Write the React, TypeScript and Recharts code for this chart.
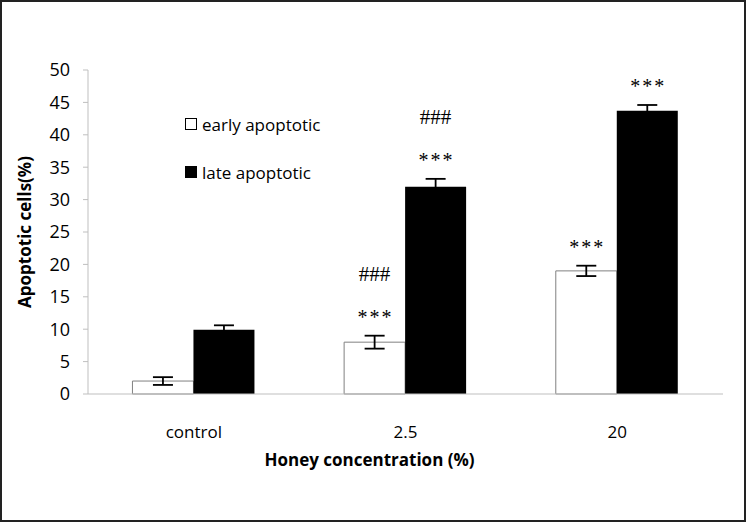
import React from 'react';
import { BarChart, Bar, XAxis, YAxis, ErrorBar, LabelList, Legend, Label } from 'recharts';

const categories = ['control', '2.5', '20'];
const earlyValues = [2, 8, 19];
const earlyErrors = [0.6, 1.0, 0.8];
const lateValues = [9.9, 32, 43.7];
const lateErrors = [0.7, 1.2, 0.9];
const earlyStars = ['', '***', '***'];
const earlyHashes = ['', '###', ''];
const lateStars = ['', '***', '***'];
const lateHashes = ['', '###', ''];
const yTicks = [0, 5, 10, 15, 20, 25, 30, 35, 40, 45, 50];
const seriesNames = ['early apoptotic', 'late apoptotic'];

const data = categories.map((name, i) => ({
  name,
  early: earlyValues[i],
  earlyErr: earlyErrors[i],
  late: lateValues[i],
  lateErr: lateErrors[i],
}));

const FONT = '"Open Sans", sans-serif';
const MARK_FONT = '"Liberation Serif", serif';

// stars/hashes drawn above the error bar top of each bar
const makeMarks = (values: number[], errors: number[], stars: string[], hashes: string[]) =>
  (props: any) => {
    const { x, y, width, height, index } = props;
    if (!stars[index] && !hashes[index]) return null;
    const perUnit = height / values[index];
    const errTop = y - errors[index] * perUnit;
    const starMid = errTop - 22;
    const cx = x + width / 2;
    return (
      <g>
        {stars[index] && (
          <text
            x={cx + 1}
            y={starMid + 10}
            textAnchor="middle"
            fontFamily={MARK_FONT}
            fontSize={20}
            letterSpacing={2}
            fill="#000"
          >
            {stars[index]}
          </text>
        )}
        {hashes[index] && (
          <text x={cx} y={starMid - 33} textAnchor="middle" fontFamily={MARK_FONT} fontSize={21} fill="#000">
            {hashes[index]}
          </text>
        )}
      </g>
    );
  };

const renderLegend = () => (
  <div style={{ fontFamily: FONT, fontSize: 17, color: '#000', textAlign: 'left' }}>
    {seriesNames.map((n, i) => (
      <div key={n} style={{ display: 'flex', alignItems: 'center', height: 24, marginBottom: i === 0 ? 24 : 0 }}>
        <span
          style={{
            display: 'inline-block',
            width: 10,
            height: 10,
            border: '1px solid #000',
            background: i === 0 ? '#fff' : '#000',
            marginRight: 5,
          }}
        />
        {n}
      </div>
    ))}
  </div>
);

export default function App() {
  return (
    <div style={{ position: 'absolute', left: 0, top: 0, width: 746, height: 522, background: '#fff' }}>
      <BarChart
        width={746}
        height={522}
        data={data}
        margin={{ top: 70, right: 23, left: 0, bottom: 0 }}
        barCategoryGap="21%"
        barGap={0}
      >
        <XAxis
          xAxisId="bounds"
          type="number"
          domain={[0, 3]}
          ticks={[0, 1, 2, 3]}
          height={0}
          tick={false}
          tickSize={5}
          tickLine={{ stroke: '#bfbfbf' }}
          axisLine={false}
        />
        <XAxis
          dataKey="name"
          height={128}
          tickLine={false}
          tickMargin={26}
          axisLine={{ stroke: '#bfbfbf' }}
          tick={{ fontFamily: FONT, fontSize: 17, fill: '#000' }}
        >
          <Label
            content={({ viewBox }: any) => (
              <text
                x={viewBox.x + viewBox.width / 2 - 36}
                y={viewBox.y + 72}
                textAnchor="middle"
                fontFamily={FONT}
                fontWeight="bold"
                fontSize={17}
                fill="#000"
              >
                Honey concentration (%)
              </text>
            )}
          />
        </XAxis>
        <YAxis
          width={88}
          domain={[0, 50]}
          ticks={yTicks}
          interval={0}
          tickSize={5}
          tickMargin={13}
          tickLine={{ stroke: '#bfbfbf' }}
          axisLine={{ stroke: '#bfbfbf' }}
          tick={{ fontFamily: FONT, fontSize: 18, fill: '#000' }}
        >
          <Label
            content={({ viewBox }: any) => (
              <text
                x={26}
                y={viewBox.y + viewBox.height / 2}
                transform={`rotate(-90, 26, ${viewBox.y + viewBox.height / 2})`}
                textAnchor="middle"
                dominantBaseline="middle"
                fontFamily={FONT}
                fontWeight="bold"
                fontSize={17}
                fill="#000"
              >
                Apoptotic cells(%)
              </text>
            )}
          />
        </YAxis>
        <Legend
          content={renderLegend}
          wrapperStyle={{ left: 185, top: 112, width: 220, height: 0, overflow: 'visible' }}
        />
        <Bar dataKey="early" fill="#fff" stroke="#808080" strokeWidth={1} isAnimationActive={false}>
          <ErrorBar dataKey="earlyErr" width={10} stroke="#000" strokeWidth={1.8} direction="y" />
          <LabelList content={makeMarks(earlyValues, earlyErrors, earlyStars, earlyHashes)} />
        </Bar>
        <Bar dataKey="late" fill="#000" isAnimationActive={false}>
          <ErrorBar dataKey="lateErr" width={10} stroke="#000" strokeWidth={1.8} direction="y" />
          <LabelList content={makeMarks(lateValues, lateErrors, lateStars, lateHashes)} />
        </Bar>
      </BarChart>
      <div
        style={{
          position: 'absolute',
          inset: 0,
          border: '2px solid #222',
          pointerEvents: 'none',
        }}
      />
    </div>
  );
}
